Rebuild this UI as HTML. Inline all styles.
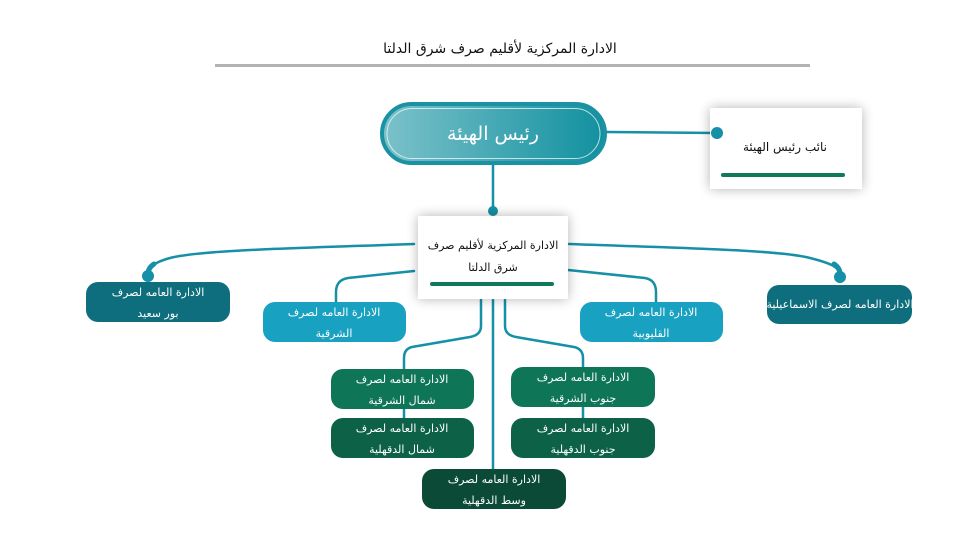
<!DOCTYPE html>
<html><head><meta charset="utf-8">
<style>
html,body{margin:0;padding:0;background:#fff;}
svg{display:block;}
text{font-family:"DejaVu Sans",sans-serif;}
</style></head>
<body>
<svg width="960" height="540" viewBox="0 0 960 540" xmlns="http://www.w3.org/2000/svg">
<defs>
<linearGradient id="g1" x1="0" x2="1" y1="0" y2="0">
<stop offset="0" stop-color="#7cc2ca"/>
<stop offset="1" stop-color="#11909f"/>
</linearGradient>
<filter id="sh" x="-20%" y="-40%" width="140%" height="180%">
<feGaussianBlur in="SourceAlpha" stdDeviation="6"/>
<feOffset dy="0"/>
<feComponentTransfer><feFuncA type="linear" slope="0.3"/></feComponentTransfer>
<feMerge><feMergeNode/><feMergeNode in="SourceGraphic"/></feMerge>
</filter>
</defs>

<!-- title -->
<text x="500" y="53" font-size="14" text-anchor="middle" fill="#111" direction="rtl">الادارة المركزية لأقليم صرف شرق الدلتا</text>
<rect x="215" y="64" width="595" height="3" fill="#b3b3b3"/>

<!-- connectors -->
<g fill="none" stroke="#1590a6" stroke-width="2.5" stroke-linecap="round">
<path d="M606 132 L717 133"/>
<path d="M493 164 L493 211"/>
<path d="M414 244 C300 248 200 250 170 258 C152 263 148 268 148 276"/>
<path d="M569 244 C680 248 780 250 810 258 C834 264 840 268 840 276"/>
<path d="M414 271 L348 278 Q336 280 336 292 L336 302"/>
<path d="M568 270 L645 278 Q656 280 656 292 L656 302"/>
<path d="M481 300 L481 326 Q481 335 470 337 L412 347 Q404 349 404 358 L404 370"/>
<path d="M404 408 L404 420"/>
<path d="M505 300 L505 326 Q505 335 516 337 L574 347 Q583 349 583 358 L583 368"/>
<path d="M583 406 L583 420"/>
<path d="M493 300 L493 470"/>
</g>
<g fill="none" stroke="#1590a6" stroke-width="5" stroke-linecap="round">
<path d="M154 264 Q148 268 148 274"/>
<path d="M834 264 Q840 268 840 274"/>
</g>
<circle cx="148" cy="276" r="6" fill="#1590a6"/>
<circle cx="840" cy="277" r="6" fill="#1590a6"/>
<circle cx="493" cy="211" r="5" fill="#1590a6"/>

<!-- top pill -->
<rect x="382" y="104" width="223" height="59" rx="29.5" fill="url(#g1)" stroke="#1a92a3" stroke-width="4"/>
<rect x="387" y="108.5" width="213" height="50" rx="25" fill="none" stroke="#ffffff" stroke-opacity="0.7" stroke-width="1"/>
<text x="493" y="140" font-size="19" text-anchor="middle" fill="#fff" direction="rtl">رئيس الهيئة</text>

<!-- deputy -->
<rect x="710" y="108" width="152" height="81" fill="#fff" filter="url(#sh)"/>
<circle cx="717" cy="133" r="6" fill="#1590a6"/>
<text x="785" y="151" font-size="12" text-anchor="middle" fill="#111" direction="rtl">نائب رئيس الهيئة</text>
<rect x="721" y="173" width="124" height="4" rx="2" fill="#0f7a5c"/>

<!-- center box -->
<rect x="418" y="216" width="150" height="83" fill="#fff" filter="url(#sh)"/>
<text x="493" y="249" font-size="11" text-anchor="middle" fill="#111" direction="rtl">الادارة المركزية لأقليم صرف</text>
<text x="493" y="271" font-size="11" text-anchor="middle" fill="#111" direction="rtl">شرق الدلتا</text>
<rect x="430" y="282" width="124" height="4" rx="2" fill="#0f7a5c"/>

<!-- boxes -->
<g font-size="11" text-anchor="middle" fill="#fff">
<rect x="86" y="282" width="144" height="40" rx="12" fill="#0e6e7e"/>
<text x="158" y="296" fill="#fff" direction="rtl">الادارة العامه لصرف</text>
<text x="158" y="317" fill="#fff" direction="rtl">بور سعيد</text>

<rect x="263" y="302" width="143" height="40" rx="12" fill="#18a1c1"/>
<text x="334" y="316" fill="#fff" direction="rtl">الادارة العامه لصرف</text>
<text x="334" y="337" fill="#fff" direction="rtl">الشرقية</text>

<rect x="580" y="302" width="143" height="40" rx="12" fill="#18a1c1"/>
<text x="651" y="316" fill="#fff" direction="rtl">الادارة العامه لصرف</text>
<text x="651" y="337" fill="#fff" direction="rtl">القليوبية</text>

<rect x="767" y="285" width="145" height="39" rx="12" fill="#0e6e7e"/>
<text x="840" y="308" fill="#fff" direction="rtl">الادارة العامه لصرف الاسماعيلية</text>

<rect x="331" y="369" width="143" height="40" rx="12" fill="#0e7656"/>
<text x="402" y="383" fill="#fff" direction="rtl">الادارة العامه لصرف</text>
<text x="402" y="404" fill="#fff" direction="rtl">شمال الشرقية</text>

<rect x="331" y="418" width="143" height="40" rx="12" fill="#0c6147"/>
<text x="402" y="432" fill="#fff" direction="rtl">الادارة العامه لصرف</text>
<text x="402" y="453" fill="#fff" direction="rtl">شمال الدقهلية</text>

<rect x="511" y="367" width="144" height="40" rx="12" fill="#0e7656"/>
<text x="583" y="381" fill="#fff" direction="rtl">الادارة العامه لصرف</text>
<text x="583" y="402" fill="#fff" direction="rtl">جنوب الشرقية</text>

<rect x="511" y="418" width="144" height="40" rx="12" fill="#0c6147"/>
<text x="583" y="432" fill="#fff" direction="rtl">الادارة العامه لصرف</text>
<text x="583" y="453" fill="#fff" direction="rtl">جنوب الدقهلية</text>

<rect x="422" y="469" width="144" height="40" rx="12" fill="#0a4a36"/>
<text x="494" y="483" fill="#fff" direction="rtl">الادارة العامه لصرف</text>
<text x="494" y="504" fill="#fff" direction="rtl">وسط الدقهلية</text>
</g>
</svg>
</body></html>
